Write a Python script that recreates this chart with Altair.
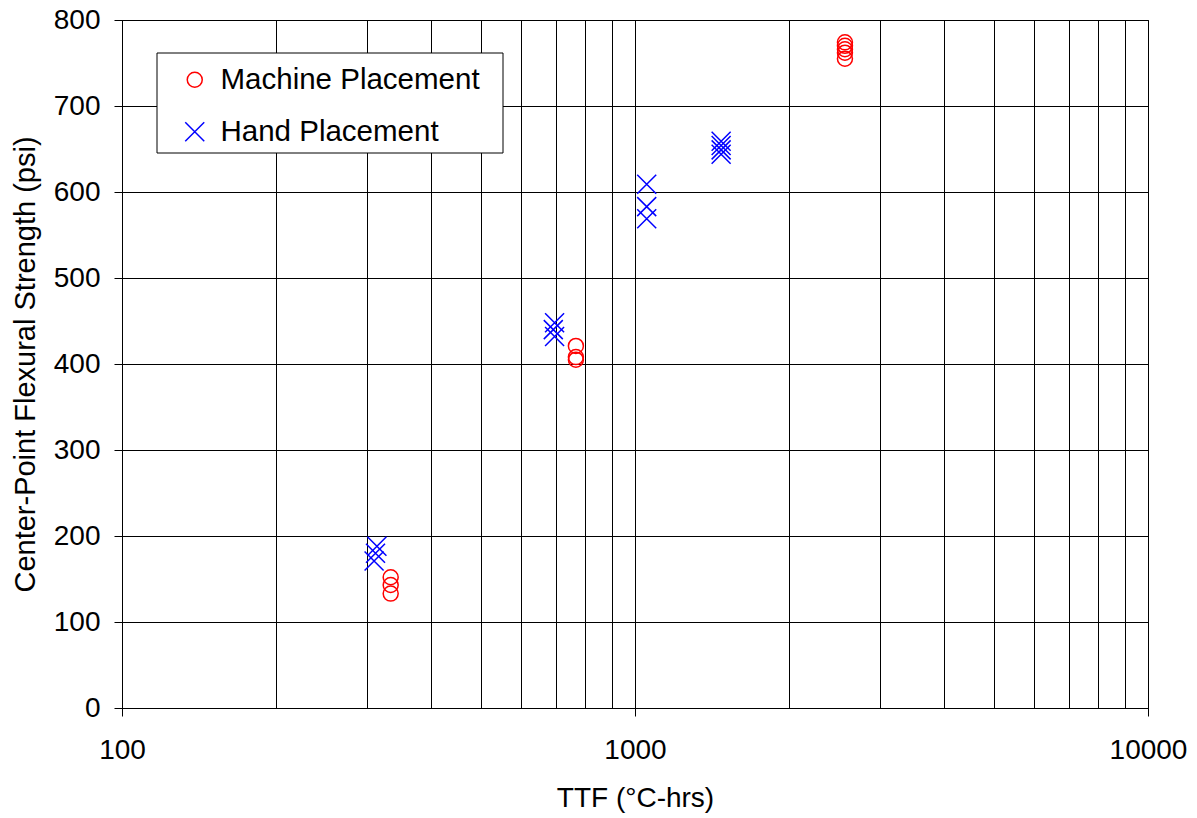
import altair as alt
import pandas as pd

# Data
machine_ttf = [334, 334, 334, 767, 767, 767, 2566, 2566, 2566, 2566, 2566]
machine_psi = [152, 143, 133, 421, 408, 405, 774, 770, 766, 762, 755]
hand_ttf = [314, 312, 310, 697, 693, 697, 1054, 1054, 1054, 1472, 1472, 1472, 1472]
hand_psi = [188, 180, 171, 448, 440, 432, 609, 583, 569, 659, 654, 649, 644]

series_names = ["Machine Placement", "Hand Placement"]
x_ticks = [100, 200, 300, 400, 500, 600, 700, 800, 900,
           1000, 2000, 3000, 4000, 5000, 6000, 7000, 8000, 9000, 10000]
y_ticks = [0, 100, 200, 300, 400, 500, 600, 700, 800]

df = pd.DataFrame({
    "ttf": machine_ttf + hand_ttf,
    "psi": machine_psi + hand_psi,
    "series": [series_names[0]] * len(machine_ttf) + [series_names[1]] * len(hand_ttf),
})

FONT = "Liberation Sans"
XPATH = "M-1,-1L1,1M-1,1L1,-1"
MAJOR = "datum.value == 100 || datum.value == 1000 || datum.value == 10000"

points = alt.Chart(df).mark_point(filled=False, strokeWidth=1.5, opacity=1).encode(
    x=alt.X("ttf:Q",
            scale=alt.Scale(type="log", domain=[100, 10000], nice=False),
            axis=alt.Axis(values=x_ticks, format="d",
                          labelExpr="(" + MAJOR + ") ? datum.label : ''",
                          tickOpacity={"condition": {"test": MAJOR, "value": 1}, "value": 0},
                          title="TTF (°C-hrs)", titlePadding=20, labelPadding=20)),
    y=alt.Y("psi:Q",
            scale=alt.Scale(domain=[0, 800], nice=False),
            axis=alt.Axis(values=y_ticks, title="Center-Point Flexural Strength (psi)",
                          titlePadding=13, labelPadding=14, titleFontSize=29,
                          titleLimit=0)),
    color=alt.Color("series:N",
                    scale=alt.Scale(domain=series_names, range=["#ff0000", "#0000ff"]),
                    legend=alt.Legend(title=None, orient="none", legendX=58, legendY=45,
                                      padding=0, symbolSize=300, symbolStrokeWidth=1.5,
                                      labelFontSize=29.5, labelFont=FONT, labelColor="black",
                                      labelLimit=0, rowPadding=21, labelOffset=11)),
    shape=alt.Shape("series:N",
                    scale=alt.Scale(domain=series_names, range=["circle", XPATH])),
    size=alt.Size("series:N",
                  scale=alt.Scale(domain=series_names, range=[225, 361]),
                  legend=None),
)

legend_box = alt.Chart(pd.DataFrame({"a": [0]})).mark_rect(
    fill="white", stroke="black", strokeWidth=1
).encode(
    x=alt.value(35), x2=alt.value(381), y=alt.value(33), y2=alt.value(133)
)

chart = alt.layer(legend_box, points).properties(
    width=1026, height=688,
    padding={"left": 114, "top": 12, "right": 41, "bottom": 108},
    autosize=alt.AutoSizeParams(type="none"),
    background="white",
).configure_view(
    stroke="black", strokeWidth=1
).configure_axis(
    grid=True, gridColor="black", gridOpacity=1, gridWidth=1,
    domainColor="black", domainWidth=1,
    tickColor="black", tickSize=8, tickWidth=1,
    labelFont=FONT, labelFontSize=28, labelColor="black",
    titleFont=FONT, titleFontSize=28, titleColor="black", titleFontWeight="normal",
    labelFlush=False, labelOverlap=False,
)

chart.save("out.html", embed_options={"renderer": "svg", "actions": False})
